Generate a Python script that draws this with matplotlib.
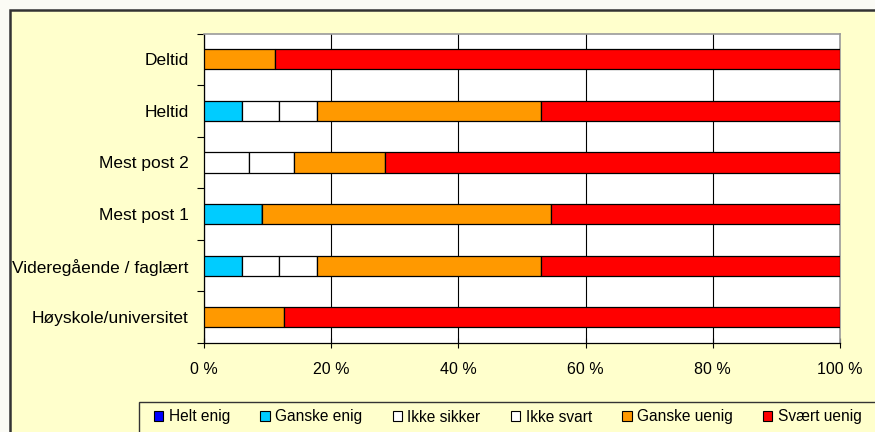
import numpy as np
import matplotlib
matplotlib.use("Agg")
import matplotlib.pyplot as plt
from matplotlib.patches import Rectangle
from matplotlib.ticker import FixedLocator, PercentFormatter

plt.rcParams["font.family"] = ["Liberation Sans", "DejaVu Sans"]

# Respondent groups, listed from top to bottom
categories = ["Deltid", "Heltid", "Mest post 2", "Mest post 1",
              "Videregående / faglært", "Høyskole/universitet"]

# Share of answers (%) per response option
helt_enig    = [0.0, 0.0, 0.0, 0.0, 0.0, 0.0]
ganske_enig  = [0.0, 5.9, 0.0, 9.1, 5.9, 0.0]
ikke_sikker  = [0.0, 5.9, 7.1, 0.0, 5.9, 0.0]
ikke_svart   = [0.0, 5.9, 7.1, 0.0, 5.9, 0.0]
ganske_uenig = [11.1, 35.3, 14.3, 45.5, 35.3, 12.5]
svaert_uenig = [88.9, 47.0, 71.5, 45.4, 47.0, 87.5]

series_names = ["Helt enig", "Ganske enig", "Ikke sikker", "Ikke svart",
                "Ganske uenig", "Svært uenig"]
series_values = [helt_enig, ganske_enig, ikke_sikker, ikke_svart,
                 ganske_uenig, svaert_uenig]
series_colors = ["#0000FF", "#00CCFF", "#FFFFFF", "#FFFFFF", "#FF9900", "#FF0000"]

x_ticks = [0, 20, 40, 60, 80, 100]

W, H = 875, 432
fig = plt.figure(figsize=(W / 100, H / 100), dpi=100, facecolor="#FBFBF5")

# Chart area panel with dark border (continues past the right/bottom edge)
fig.patches.append(Rectangle((9.5 / W, -0.1), 1.2, 1.1 - 10 / H,
                             transform=fig.transFigure, facecolor="#FFFFCC",
                             edgecolor="#333333", linewidth=1.8, zorder=-5))
# Legend box, also running past the right/bottom edge
fig.patches.append(Rectangle((139 / W, -0.1), 1.0, 0.1 + 1 - 402 / H,
                             transform=fig.transFigure, facecolor="#FFFFCC",
                             edgecolor="#333333", linewidth=1.0, zorder=-4))

ax = fig.add_axes([204 / W, 1 - 343 / H, 636 / W, (343 - 33.5) / H])
ax.set_facecolor("white")

y = np.arange(len(categories))
left = np.zeros(len(categories))
handles = []
for name, vals, col in zip(series_names, series_values, series_colors):
    vals = np.asarray(vals)
    b = ax.barh(y, vals, left=left, height=0.39, color=col,
                edgecolor="black", linewidth=0.9, label=name, zorder=3)
    handles.append(b)
    left = left + vals

ax.set_xlim(0, 100)
ax.set_ylim(len(categories) - 0.5, -0.5)

ax.xaxis.set_major_locator(FixedLocator(x_ticks))
ax.xaxis.set_major_formatter(PercentFormatter(decimals=0, symbol=" %"))
ax.grid(axis="x", color="black", linewidth=0.8, zorder=1)
ax.tick_params(axis="x", direction="inout", length=7, width=0.8, pad=10,
               labelsize=11.5)

ax.set_yticks(y)
ax.set_yticklabels(categories)
ax.set_yticks(np.arange(len(categories) + 1) - 0.5, minor=True)
ax.tick_params(axis="y", which="major", length=0, pad=11, labelsize=12.5)
ax.tick_params(axis="y", which="minor", length=5, width=0.8, direction="out")

for s in ["top", "right"]:
    ax.spines[s].set_color("#9A9A9A")
    ax.spines[s].set_linewidth(1.2)
for s in ["left", "bottom"]:
    ax.spines[s].set_color("black")
    ax.spines[s].set_linewidth(0.9)

leg = fig.legend(handles=handles, labels=series_names, ncol=6,
                 loc="center left", bbox_to_anchor=(154 / W, 1 - 417 / H),
                 fontsize=11.2, frameon=False,
                 handlelength=0.6, handleheight=0.6, handletextpad=0.35,
                 columnspacing=1.95, borderpad=0, borderaxespad=0)
for h in leg.legend_handles:
    h.set_edgecolor("black")
    h.set_linewidth(0.8)

fig.savefig("out.png", dpi=100, facecolor=fig.get_facecolor())
